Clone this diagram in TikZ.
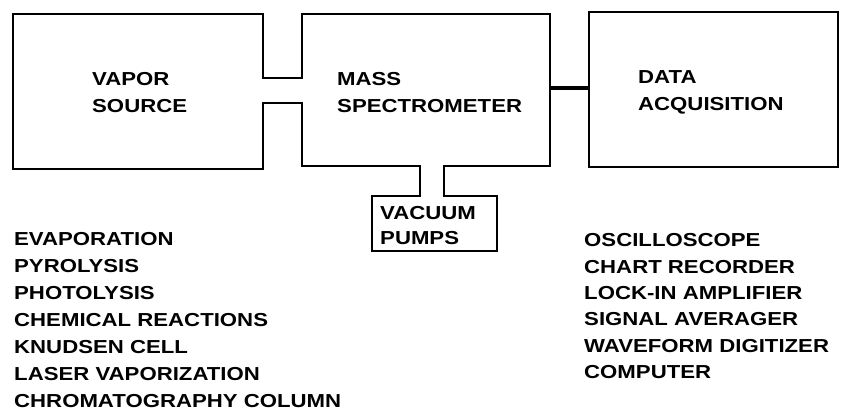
\documentclass[tikz,border=0pt]{standalone}
\usepackage{fontspec}
\setmainfont{Liberation Sans}
\newfontfamily\lblfont{Liberation Sans}[FakeStretch=1.18, BoldFeatures={FakeStretch=1.18}]
\usetikzlibrary{calc}
\begin{document}
\begin{tikzpicture}[x=1pt,y=-1pt,
  lbl/.style={anchor=base west, inner sep=0pt, font=\lblfont\fontsize{18.8}{27}\selectfont\bfseries},
  boxline/.style={line width=1.8pt, line join=miter},
  blk/.style={anchor=north west, inner sep=0pt, outer sep=0pt, draw=none},
  ]
\useasboundingbox (0,0) rectangle (849,411);
% block shapes
\node[blk, minimum width=250pt, minimum height=155pt] (vs) at (13,14) {};
\node[blk, minimum width=248pt, minimum height=152pt] (ms) at (302,14) {};
\node[blk, minimum width=249pt, minimum height=155pt] (da) at (589,12) {};
\node[blk, minimum width=125pt, minimum height=55pt] (pb) at (372,196) {};
% helper coordinates for the tubes
\coordinate (tu) at (0,78);
\coordinate (tl) at (0,103);
\coordinate (pl) at (420,0);
\coordinate (pr) at (444,0);
\coordinate (dc) at (0,88);
% outline of vapor source + mass spectrometer + pumps
\draw[boxline] (vs.east|-tu) -- (vs.north east) -- (vs.north west) -- (vs.south west)
  -- (vs.south east) -- (vs.east|-tl) -- (ms.west|-tl) -- (ms.south west)
  -- (pl|-ms.south) -- (pl|-pb.north) -- (pb.north west) -- (pb.south west)
  -- (pb.south east) -- (pb.north east) -- (pr|-pb.north) -- (pr|-ms.south)
  -- (ms.south east) -- (ms.north east) -- (ms.north west) -- (ms.west|-tu) -- cycle;
\draw[boxline] (da.north west) rectangle (da.south east);
\draw[line width=4pt] (ms.east|-dc) -- (da.west|-dc);
% labels in blocks
\node[lbl] (vs1) at (92,86) {VAPOR};
\node[lbl] (vs2) at (92,113) {SOURCE};
\node[lbl] (ms1) at (337,86) {MASS};
\node[lbl] (ms2) at (337,113) {SPECTROMETER};
\node[lbl] (da1) at (638,84) {DATA};
\node[lbl] (da2) at (638,111) {ACQUISITION};
\node[lbl] (pb1) at (380,220) {VACUUM};
\node[lbl] (pb2) at (380,245) {PUMPS};
% lists
\foreach \t [count=\i from 0] in {EVAPORATION, PYROLYSIS, PHOTOLYSIS, CHEMICAL REACTIONS,
  KNUDSEN CELL, LASER VAPORIZATION, CHROMATOGRAPHY COLUMN}
  \node[lbl] (src\i) at (14,246+27*\i) {\t};
\foreach \t [count=\i from 0] in {OSCILLOSCOPE, CHART RECORDER, LOCK-IN AMPLIFIER,
  SIGNAL AVERAGER, WAVEFORM DIGITIZER, COMPUTER}
  \node[lbl] (acq\i) at (584,247+26.3*\i) {\t};
\end{tikzpicture}
\end{document}
